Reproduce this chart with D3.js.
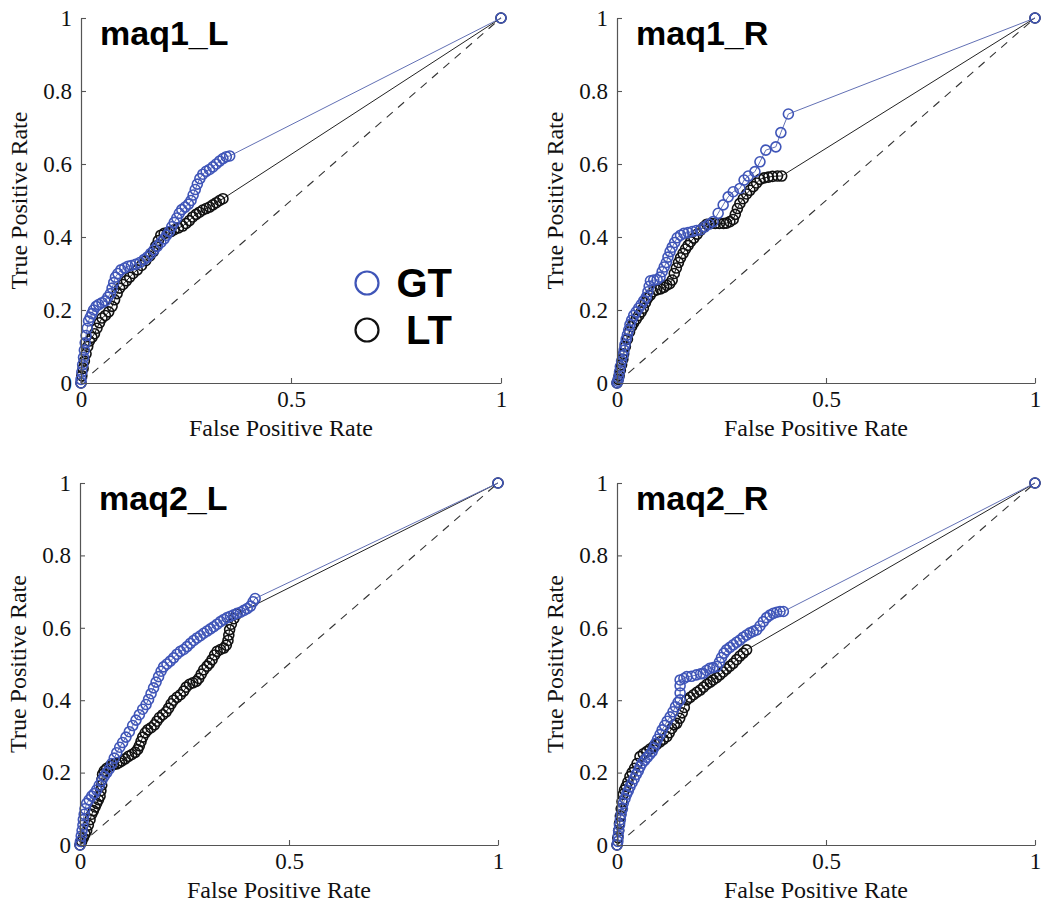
<!DOCTYPE html>
<html><head><meta charset="utf-8">
<script src="https://cdn.jsdelivr.net/npm/d3@7"></script>
<style>body{margin:0;background:#fff}svg{display:block}</style>
</head><body>
<svg id="chart" width="1050" height="910"></svg>
<script>
const panelTitles = ["maq1_L", "maq1_R", "maq2_L", "maq2_R"];
const xTicks = [0, 0.5, 1];
const yTicks = [0, 0.2, 0.4, 0.6, 0.8, 1];
const legendLabels = ["GT", "LT"];
const xLabel = "False Positive Rate";
const yLabel = "True Positive Rate";

const gt_maq1_L = [[0,0],[0,0.01],[0.002,0.03],[0.004,0.05],[0.006,0.07],[0.008,0.09],[0.01,0.11],[0.012,0.13],[0.015,0.15],[0.018,0.17],[0.022,0.18],[0.026,0.19],[0.03,0.2],[0.036,0.21],[0.042,0.215],[0.05,0.22],[0.058,0.225],[0.064,0.235],[0.07,0.245],[0.074,0.26],[0.078,0.275],[0.082,0.29],[0.088,0.3],[0.095,0.31],[0.104,0.315],[0.112,0.32],[0.12,0.322],[0.13,0.325],[0.14,0.33],[0.15,0.338],[0.158,0.345],[0.166,0.355],[0.174,0.365],[0.182,0.375],[0.19,0.385],[0.198,0.395],[0.204,0.405],[0.21,0.415],[0.216,0.428],[0.222,0.44],[0.228,0.452],[0.234,0.465],[0.24,0.475],[0.248,0.482],[0.256,0.49],[0.262,0.5],[0.267,0.515],[0.272,0.53],[0.277,0.545],[0.283,0.56],[0.29,0.572],[0.298,0.58],[0.306,0.585],[0.314,0.592],[0.322,0.6],[0.33,0.608],[0.338,0.615],[0.346,0.62],[0.354,0.622]];
const lt_maq1_L = [[0,0],[0.002,0.02],[0.005,0.04],[0.008,0.06],[0.012,0.08],[0.016,0.1],[0.02,0.115],[0.026,0.125],[0.032,0.135],[0.038,0.15],[0.044,0.165],[0.05,0.178],[0.058,0.185],[0.066,0.195],[0.074,0.21],[0.08,0.228],[0.086,0.245],[0.092,0.26],[0.1,0.27],[0.108,0.28],[0.116,0.29],[0.124,0.3],[0.134,0.31],[0.144,0.322],[0.154,0.335],[0.164,0.348],[0.172,0.36],[0.178,0.375],[0.184,0.39],[0.19,0.405],[0.198,0.41],[0.206,0.412],[0.214,0.415],[0.222,0.42],[0.232,0.425],[0.242,0.43],[0.25,0.437],[0.258,0.445],[0.266,0.455],[0.274,0.462],[0.282,0.468],[0.29,0.474],[0.298,0.478],[0.306,0.482],[0.314,0.488],[0.322,0.494],[0.33,0.5],[0.338,0.505]];
const gt_maq1_R = [[0,0],[0.002,0.005],[0.004,0.015],[0.006,0.03],[0.008,0.045],[0.011,0.06],[0.014,0.075],[0.017,0.09],[0.019,0.105],[0.022,0.12],[0.025,0.132],[0.028,0.145],[0.031,0.16],[0.035,0.172],[0.04,0.185],[0.046,0.195],[0.052,0.205],[0.058,0.215],[0.064,0.225],[0.07,0.235],[0.074,0.25],[0.077,0.265],[0.08,0.28],[0.088,0.282],[0.096,0.283],[0.103,0.29],[0.108,0.305],[0.113,0.318],[0.118,0.33],[0.122,0.345],[0.127,0.36],[0.132,0.372],[0.138,0.385],[0.144,0.398],[0.152,0.405],[0.16,0.41],[0.17,0.412],[0.18,0.415],[0.19,0.418],[0.2,0.42],[0.21,0.428],[0.22,0.435],[0.23,0.442],[0.242,0.465],[0.254,0.488],[0.266,0.51],[0.278,0.524],[0.294,0.533],[0.304,0.556],[0.314,0.567],[0.33,0.579],[0.342,0.606],[0.356,0.638],[0.38,0.647],[0.392,0.686],[0.41,0.737]];
const lt_maq1_R = [[0,0],[0.003,0.01],[0.005,0.02],[0.008,0.035],[0.011,0.05],[0.014,0.065],[0.016,0.08],[0.02,0.1],[0.025,0.12],[0.03,0.14],[0.035,0.155],[0.04,0.165],[0.046,0.175],[0.052,0.185],[0.058,0.195],[0.063,0.205],[0.068,0.22],[0.073,0.232],[0.079,0.24],[0.086,0.25],[0.095,0.255],[0.104,0.258],[0.112,0.262],[0.119,0.268],[0.126,0.272],[0.132,0.282],[0.137,0.3],[0.142,0.315],[0.147,0.33],[0.152,0.343],[0.158,0.355],[0.164,0.367],[0.17,0.377],[0.176,0.387],[0.184,0.397],[0.192,0.408],[0.2,0.419],[0.208,0.428],[0.215,0.435],[0.225,0.437],[0.235,0.437],[0.245,0.437],[0.255,0.437],[0.262,0.438],[0.27,0.442],[0.278,0.448],[0.283,0.462],[0.288,0.478],[0.294,0.492],[0.302,0.505],[0.31,0.518],[0.318,0.528],[0.326,0.538],[0.334,0.548],[0.342,0.558],[0.352,0.562],[0.362,0.564],[0.372,0.566],[0.384,0.567],[0.394,0.567]];
const gt_maq2_L = [[0,0],[0.001,0.01],[0.003,0.025],[0.005,0.04],[0.007,0.055],[0.008,0.07],[0.01,0.085],[0.012,0.1],[0.016,0.115],[0.022,0.125],[0.028,0.135],[0.034,0.142],[0.04,0.152],[0.046,0.165],[0.052,0.178],[0.058,0.19],[0.064,0.2],[0.07,0.21],[0.076,0.225],[0.082,0.24],[0.088,0.255],[0.095,0.27],[0.102,0.283],[0.11,0.298],[0.118,0.313],[0.126,0.33],[0.134,0.345],[0.142,0.36],[0.15,0.375],[0.158,0.388],[0.164,0.402],[0.17,0.418],[0.176,0.434],[0.182,0.45],[0.188,0.465],[0.194,0.48],[0.2,0.492],[0.208,0.5],[0.216,0.508],[0.224,0.517],[0.232,0.527],[0.24,0.535],[0.248,0.54],[0.256,0.548],[0.264,0.557],[0.272,0.565],[0.28,0.572],[0.288,0.578],[0.296,0.585],[0.304,0.591],[0.312,0.597],[0.32,0.603],[0.328,0.61],[0.336,0.617],[0.344,0.623],[0.352,0.628],[0.36,0.632],[0.368,0.636],[0.376,0.64],[0.384,0.643],[0.392,0.648],[0.4,0.653],[0.408,0.66],[0.414,0.672],[0.419,0.681]];
const lt_maq2_L = [[0,0],[0.004,0.01],[0.008,0.02],[0.012,0.03],[0.016,0.04],[0.02,0.055],[0.024,0.07],[0.028,0.085],[0.032,0.095],[0.036,0.105],[0.04,0.115],[0.044,0.125],[0.048,0.135],[0.05,0.15],[0.052,0.165],[0.052,0.18],[0.054,0.195],[0.058,0.205],[0.064,0.212],[0.072,0.218],[0.08,0.222],[0.088,0.224],[0.094,0.228],[0.1,0.232],[0.108,0.238],[0.116,0.245],[0.124,0.25],[0.132,0.256],[0.138,0.264],[0.142,0.274],[0.146,0.286],[0.15,0.298],[0.156,0.31],[0.162,0.318],[0.17,0.324],[0.178,0.332],[0.184,0.342],[0.19,0.352],[0.198,0.36],[0.206,0.368],[0.212,0.378],[0.218,0.39],[0.224,0.4],[0.232,0.408],[0.24,0.415],[0.248,0.425],[0.254,0.436],[0.262,0.444],[0.27,0.448],[0.278,0.452],[0.284,0.46],[0.29,0.472],[0.296,0.484],[0.304,0.494],[0.31,0.502],[0.316,0.512],[0.322,0.525],[0.328,0.535],[0.336,0.54],[0.344,0.544],[0.35,0.552],[0.354,0.565],[0.356,0.58],[0.358,0.595],[0.362,0.61],[0.368,0.625],[0.375,0.638]];
const gt_maq2_R = [[0,0],[0.002,0.01],[0.003,0.025],[0.004,0.04],[0.006,0.055],[0.008,0.07],[0.01,0.085],[0.013,0.1],[0.015,0.115],[0.019,0.128],[0.023,0.14],[0.027,0.15],[0.031,0.161],[0.036,0.172],[0.041,0.183],[0.046,0.195],[0.051,0.205],[0.055,0.216],[0.06,0.226],[0.066,0.234],[0.072,0.242],[0.078,0.25],[0.084,0.258],[0.088,0.268],[0.092,0.28],[0.097,0.292],[0.103,0.305],[0.108,0.318],[0.114,0.33],[0.12,0.342],[0.127,0.354],[0.134,0.368],[0.14,0.382],[0.146,0.394],[0.151,0.401],[0.151,0.42],[0.151,0.44],[0.151,0.456],[0.16,0.46],[0.167,0.465],[0.178,0.466],[0.19,0.47],[0.2,0.473],[0.206,0.474],[0.214,0.482],[0.222,0.488],[0.23,0.49],[0.239,0.493],[0.245,0.505],[0.25,0.518],[0.256,0.53],[0.262,0.539],[0.27,0.546],[0.278,0.553],[0.286,0.56],[0.294,0.566],[0.302,0.574],[0.31,0.58],[0.318,0.586],[0.326,0.59],[0.334,0.594],[0.342,0.605],[0.35,0.617],[0.358,0.628],[0.366,0.635],[0.374,0.64],[0.382,0.643],[0.39,0.645],[0.398,0.645]];
const lt_maq2_R = [[0,0],[0.002,0.02],[0.004,0.04],[0.006,0.06],[0.008,0.08],[0.01,0.1],[0.012,0.12],[0.015,0.14],[0.018,0.152],[0.022,0.162],[0.026,0.174],[0.031,0.189],[0.036,0.2],[0.042,0.212],[0.048,0.225],[0.055,0.244],[0.063,0.252],[0.071,0.258],[0.079,0.265],[0.087,0.272],[0.095,0.278],[0.103,0.285],[0.111,0.292],[0.119,0.299],[0.125,0.31],[0.131,0.322],[0.137,0.332],[0.143,0.336],[0.15,0.35],[0.156,0.365],[0.161,0.38],[0.167,0.401],[0.175,0.408],[0.183,0.415],[0.191,0.422],[0.199,0.428],[0.207,0.436],[0.215,0.444],[0.223,0.45],[0.23,0.456],[0.238,0.462],[0.246,0.47],[0.254,0.478],[0.262,0.486],[0.27,0.494],[0.278,0.502],[0.286,0.512],[0.294,0.522],[0.302,0.53],[0.31,0.539]];

const gtSeries = [gt_maq1_L, gt_maq1_R, gt_maq2_L, gt_maq2_R];
const ltSeries = [lt_maq1_L, lt_maq1_R, lt_maq2_L, lt_maq2_R];
const endPoint = [1, 1];

const BLUE = "#3f55b8", BLUE_LINE = "#6270b4", BLACK = "#111";
const layout = [
  {x0: 81, x1: 501, y0: 383, y1: 18},
  {x0: 617, x1: 1035, y0: 383, y1: 18},
  {x0: 80, x1: 498, y0: 845, y1: 483},
  {x0: 617, x1: 1035, y0: 845, y1: 483}
];

const svg = d3.select("#chart");
const serif = "'Liberation Serif','Times New Roman',serif";
const sans = "'Liberation Sans',Arial,sans-serif";

panelTitles.forEach((title, i) => {
  const L = layout[i];
  const x = d3.scaleLinear().domain([0, 1]).range([L.x0, L.x1]);
  const y = d3.scaleLinear().domain([0, 1]).range([L.y0, L.y1]);
  const g = svg.append("g");

  g.append("line")
    .attr("x1", x(0)).attr("y1", y(0)).attr("x2", x(1)).attr("y2", y(1))
    .attr("stroke", "#333").attr("stroke-width", 1.1).attr("stroke-dasharray", "8,7");

  const line = d3.line().x(d => x(d[0])).y(d => y(d[1]));
  const drawSeries = (data, color, lineColor) => {
    const full = data.concat([endPoint]);
    g.append("path").datum(full).attr("d", line)
      .attr("fill", "none").attr("stroke", lineColor).attr("stroke-width", 1);
    g.append("g").selectAll("circle").data(full).join("circle")
      .attr("cx", d => x(d[0])).attr("cy", d => y(d[1])).attr("r", 5)
      .attr("fill", "none").attr("stroke", color).attr("stroke-width", 1.6);
  };
  drawSeries(ltSeries[i], BLACK, "#222");
  drawSeries(gtSeries[i], BLUE, BLUE_LINE);

  const xa = g.append("g").attr("transform", `translate(0,${L.y0})`)
    .call(d3.axisBottom(x).tickValues(xTicks).tickFormat(d => String(d))
      .tickSizeInner(-5).tickSizeOuter(0).tickPadding(8));
  const ya = g.append("g").attr("transform", `translate(${L.x0},0)`)
    .call(d3.axisLeft(y).tickValues(yTicks).tickFormat(d => String(d))
      .tickSizeInner(-5).tickSizeOuter(0).tickPadding(9));
  [xa, ya].forEach(a => {
    a.select(".domain").attr("stroke", "#555").attr("stroke-width", 1.2);
    a.selectAll(".tick line").attr("stroke", "#555").attr("stroke-width", 1.1);
    a.selectAll(".tick text").attr("font-family", serif).attr("font-size", 23).attr("fill", "#111");
  });

  g.append("text").attr("x", (L.x0 + L.x1) / 2 - 10).attr("y", L.y0 + 53)
    .attr("text-anchor", "middle").attr("font-family", serif).attr("font-size", 24)
    .attr("fill", "#111").text(xLabel);
  g.append("text").attr("transform", `translate(${L.x0 - 54},${(L.y0 + L.y1) / 2}) rotate(-90)`)
    .attr("text-anchor", "middle").attr("font-family", serif).attr("font-size", 24)
    .attr("fill", "#111").text(yLabel);

  g.append("text").attr("x", L.x0 + 19).attr("y", L.y1 + 27)
    .attr("font-family", sans).attr("font-weight", "bold").attr("font-size", 34)
    .attr("fill", "#000").text(title);
});

const legendColors = [BLUE, BLACK];
const lg = svg.append("g");
legendLabels.forEach((lab, k) => {
  const cy = 283 + k * 47;
  lg.append("circle").attr("cx", 367).attr("cy", cy).attr("r", 11.5)
    .attr("fill", "none").attr("stroke", legendColors[k]).attr("stroke-width", 2.2);
  lg.append("text").attr("x", 452).attr("y", cy + 14).attr("text-anchor", "end")
    .attr("font-family", sans).attr("font-weight", "bold").attr("font-size", 40)
    .attr("fill", "#000").text(lab);
});
</script>
</body></html>
